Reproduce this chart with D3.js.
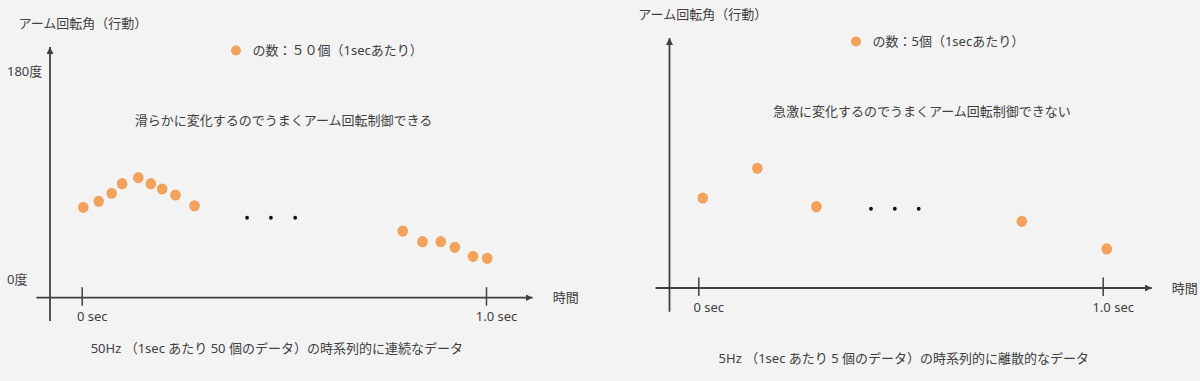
<!DOCTYPE html>
<html>
<head>
<meta charset="utf-8">
<script src="https://cdn.jsdelivr.net/npm/d3@7"></script>
<style>
  html, body { margin: 0; padding: 0; background: #f3f3f3; }
  svg { display: block; font-family: "Noto Sans", "Noto Sans CJK JP", sans-serif; }
  text { fill: #404040; font-size: 13px; }
</style>
</head>
<body>
<svg id="chart"></svg>
<script>
// values (time in sec, angle in degrees)
var leftTimes  = [0.004, 0.042, 0.074, 0.100, 0.140, 0.171, 0.199, 0.232, 0.279, 0.794, 0.843, 0.888, 0.923, 0.968, 1.003];
var leftAngles = [62.0, 67.2, 74.2, 82.5, 87.7, 82.5, 77.9, 72.7, 63.4, 41.5, 32.3, 32.3, 27.4, 19.6, 17.9];
var leftGap    = [0.409, 0.468, 0.528];

var rightTimes  = [0.011, 0.146, 0.292, 0.800, 1.010];
var rightAngles = [62.3, 88.0, 54.8, 42.1, 18.2];
var rightGap    = [0.427, 0.486, 0.545];

var gapAngle = 53;
var tickTimes = [0, 1];
var tickLabels = ["0 sec", "1.0 sec"];
var angleTicks = [0, 180];

var dotColor = "#f2a25b";
var axisColor = "#404040";
var fontFamily = "'Noto Sans', 'Noto Sans CJK JP', sans-serif";

var svg = d3.select("#chart").attr("width", 1200).attr("height", 381);

var defs = svg.append("defs");
defs.append("marker")
  .attr("id", "arrow")
  .attr("viewBox", "0 0 10 10")
  .attr("refX", 10).attr("refY", 5)
  .attr("markerWidth", 7).attr("markerHeight", 7)
  .attr("markerUnits", "userSpaceOnUse")
  .attr("orient", "auto")
  .append("path").attr("d", "M0,0L10,5L0,10Z").attr("fill", axisColor);

function panel(opt) {
  var g = svg.append("g");
  var x = d3.scaleLinear().domain([0, 1]).range([opt.t0, opt.t1]);
  var y = d3.scaleLinear().domain([0, 180]).range([opt.zeroY, opt.topY]);

  // axes with arrows
  g.append("line")
    .attr("x1", opt.axisX).attr("x2", opt.axisX)
    .attr("y1", opt.yBottom).attr("y2", opt.yTop)
    .attr("stroke", axisColor).attr("stroke-width", 1.8)
    .attr("marker-end", "url(#arrow)");
  g.append("line")
    .attr("x1", opt.xLeft).attr("x2", opt.xRight)
    .attr("y1", opt.axisY).attr("y2", opt.axisY)
    .attr("stroke", axisColor).attr("stroke-width", 1.8)
    .attr("marker-end", "url(#arrow)");

  var xa = g.append("g")
    .attr("transform", "translate(0," + opt.axisY + ")")
    .call(d3.axisBottom(x).tickValues(tickTimes)
      .tickFormat(function(d, i) { return tickLabels[i]; })
      .tickSizeInner(8).tickSizeOuter(0));
  xa.select(".domain").remove();
  xa.selectAll("line").attr("y1", -10.5).attr("y2", 8).attr("stroke", axisColor).attr("stroke-width", 1.5);
  xa.selectAll("text")
    .attr("y", 23.5).attr("dy", 0).attr("dx", 10)
    .attr("fill", "#404040")
    .style("font-size", "13px")
    .style("font-family", fontFamily);

  if (opt.angleLabels) {
    var ya = g.append("g")
      .attr("transform", "translate(" + opt.axisX + ",0)")
      .call(d3.axisLeft(y).tickValues(angleTicks)
        .tickFormat(function(d) { return d + "度"; }).tickSize(0));
    ya.select(".domain").remove();
    ya.selectAll("text")
      .attr("x", 7 - opt.axisX).attr("dy", "0.35em")
      .attr("text-anchor", "start")
      .attr("fill", "#404040")
      .style("font-size", "13px")
      .style("font-family", fontFamily);
  }

  g.append("text").attr("x", opt.titleX).attr("y", opt.titleY).text("アーム回転角（行動）");
  g.append("text").attr("x", opt.xLabelX).attr("y", opt.axisY + 4.5).text("時間");

  // legend
  g.append("circle").attr("cx", opt.legX).attr("cy", opt.legY).attr("r", 5).attr("fill", dotColor);
  g.append("text").attr("x", opt.legX + 16.5).attr("y", opt.legY + 4.5).text(opt.legText);

  g.append("text").attr("x", opt.noteX).attr("y", opt.noteY).text(opt.note);
  g.append("text").attr("x", opt.capX).attr("y", opt.capY).text(opt.caption);

  g.selectAll(".pt")
    .data(d3.zip(opt.times, opt.angles))
    .enter().append("ellipse")
    .attr("class", "pt")
    .attr("cx", function(d) { return x(d[0]); })
    .attr("cy", function(d) { return y(d[1]); })
    .attr("rx", 5.3).attr("ry", 5.6)
    .attr("fill", dotColor);

  g.selectAll(".gap")
    .data(opt.gap)
    .enter().append("circle")
    .attr("class", "gap")
    .attr("cx", function(d) { return x(d); })
    .attr("cy", y(gapAngle))
    .attr("r", 1.9)
    .attr("fill", "#111");
}

panel({
  t0: 81.7, t1: 486, zeroY: 279, topY: 71,
  axisX: 50, yTop: 47, yBottom: 321,
  axisY: 297.7, xLeft: 36.4, xRight: 532.5,
  angleLabels: true,
  titleX: 18.5, titleY: 28,
  xLabelX: 552.7,
  legX: 236, legY: 50.5, legText: "の数：５０個（1secあたり）",
  noteX: 134.7, noteY: 124.5, note: "滑らかに変化するのでうまくアーム回転制御できる",
  capX: 90.7, capY: 352.5, caption: "50Hz （1sec あたり 50 個のデータ）の時系列的に連続なデータ",
  times: leftTimes, angles: leftAngles, gap: leftGap
});

panel({
  t0: 698.3, t1: 1102.7, zeroY: 270, topY: 62,
  axisX: 669.5, yTop: 38, yBottom: 311.7,
  axisY: 288, xLeft: 655.5, xRight: 1151.8,
  angleLabels: false,
  titleX: 638.3, titleY: 18.5,
  xLabelX: 1171.7,
  legX: 856, legY: 41.5, legText: "の数：5個（1secあたり）",
  noteX: 773, noteY: 116, note: "急激に変化するのでうまくアーム回転制御できない",
  capX: 718.6, capY: 362.5, caption: "5Hz （1sec あたり 5 個のデータ）の時系列的に離散的なデータ",
  times: rightTimes, angles: rightAngles, gap: rightGap
});
</script>
</body>
</html>
